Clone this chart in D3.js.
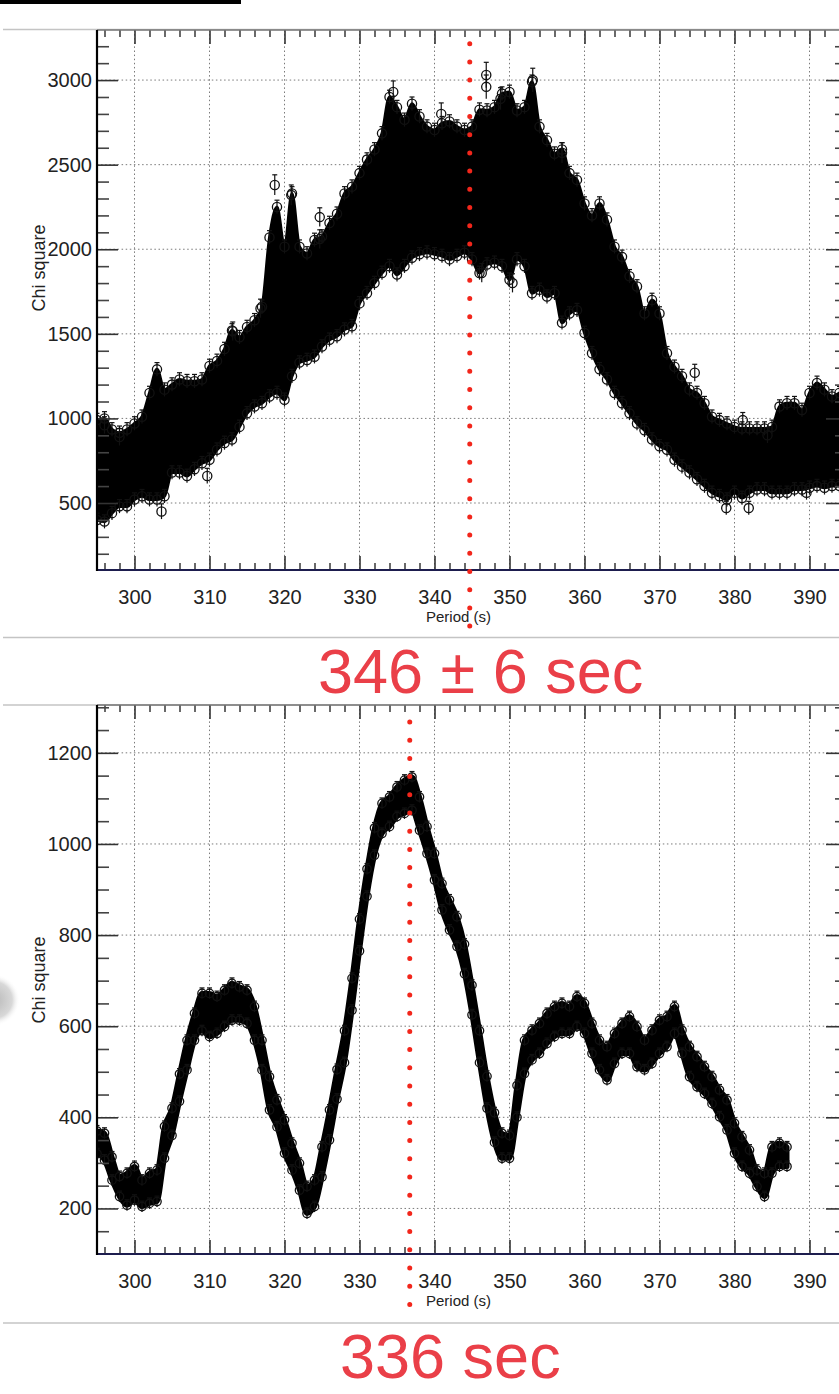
<!DOCTYPE html>
<html>
<head>
<meta charset="utf-8">
<script src="https://cdn.jsdelivr.net/npm/d3@7/dist/d3.min.js"></script>
<style>
  body { margin: 0; background: #fff; }
  svg { display: block; }
</style>
</head>
<body>
<svg id="chart"></svg>
<script>
// ---- data ----
// top panel: envelope of the dense cloud of points (one sample per second of period)
const periodsTop = [295, 296, 297, 298, 299, 300, 301, 302, 303, 304, 305, 306, 307, 308, 309, 310, 311, 312, 313, 314,
  315, 316, 317, 318, 319, 320, 321, 322, 323, 324, 325, 326, 327, 328, 329, 330, 331, 332, 333, 334,
  335, 336, 337, 338, 339, 340, 341, 342, 343, 344, 345, 346, 347, 348, 349, 350, 351, 352, 353, 354,
  355, 356, 357, 358, 359, 360, 361, 362, 363, 364, 365, 366, 367, 368, 369, 370, 371, 372, 373, 374,
  375, 376, 377, 378, 379, 380, 381, 382, 383, 384, 385, 386, 387, 388, 389, 390, 391, 392, 393, 394, 395]
const upperTop = [990, 1000, 935, 915, 935, 970, 1010, 1150, 1290, 1170, 1200, 1230, 1220, 1220, 1230, 1310, 1340, 1410, 1520, 1480,
  1540, 1580, 1660, 2070, 2250, 2015, 2330, 2015, 1975, 2055, 2075, 2155, 2210, 2330, 2370, 2450, 2530, 2590, 2685, 2900,
  2840, 2765, 2860, 2785, 2725, 2705, 2745, 2755, 2725, 2705, 2725, 2825, 2820, 2840, 2920, 2930, 2820, 2840, 2990, 2725,
  2645, 2565, 2590, 2450, 2410, 2270, 2200, 2270, 2175, 2015, 1955, 1840, 1780, 1620, 1700, 1620, 1385, 1305, 1250, 1170,
  1150, 1090, 1010, 990, 970, 950, 940, 940, 940, 940, 950, 1070, 1090, 1090, 1050, 1150, 1210, 1170, 1130, 1150, 1190]
const lowerTop = [400, 390, 440, 480, 480, 520, 540, 520, 520, 540, 680, 680, 660, 700, 735, 755, 815, 855, 875, 950,
  1030, 1070, 1090, 1130, 1150, 1110, 1250, 1330, 1345, 1365, 1425, 1465, 1485, 1525, 1545, 1680, 1740, 1800, 1860, 1900,
  1850, 1900, 1950, 1970, 1980, 1970, 1960, 1940, 1960, 1980, 1940, 1860, 1910, 1920, 1900, 1820, 1940, 1900, 1740, 1760,
  1720, 1740, 1565, 1620, 1640, 1505, 1385, 1290, 1230, 1150, 1090, 1030, 970, 930, 875, 835, 815, 755, 715, 680,
  640, 600, 560, 540, 520, 560, 530, 560, 580, 580, 560, 560, 560, 580, 580, 590, 600, 590, 600, 600, 600]
// isolated points standing out of the cloud
const outlierTopP = [296.0, 298.0, 303.6, 309.7, 313.1, 316.8, 318.7, 320.9, 324.7, 324.7, 334.5, 340.9, 346.9, 346.9,
  348.8, 353.1, 357.0, 346.3, 350.4, 374.7, 381.1, 384.4, 378.9, 381.9, 389.6]
const outlierTopV = [960, 890, 450, 660, 1515, 1650, 2380, 2320, 2190, 2060, 2930, 2800, 3030, 2960,
  2890, 3000, 2570, 1860, 1800, 1270, 990, 900, 470, 470, 560]
const outlierTopErr = [50, 50, 45, 45, 55, 55, 60, 60, 55, 55, 65, 65, 75, 70,
  65, 70, 60, 55, 55, 50, 45, 45, 40, 40, 40]

// bottom panel: thin band
const periodsBottom = [295, 296, 297, 298, 299, 300, 301, 302, 303, 304, 305, 306, 307, 308, 309, 310, 311, 312, 313, 314,
  315, 316, 317, 318, 319, 320, 321, 322, 323, 324, 325, 326, 327, 328, 329, 330, 331, 332, 333, 334,
  335, 336, 337, 338, 339, 340, 341, 342, 343, 344, 345, 346, 347, 348, 349, 350, 351, 352, 353, 354,
  355, 356, 357, 358, 359, 360, 361, 362, 363, 364, 365, 366, 367, 368, 369, 370, 371, 372, 373, 374,
  375, 376, 377, 378, 379, 380, 381, 382, 383, 384, 385, 386, 387]
const upperBottom = [370, 365, 313, 270, 277, 292, 262, 277, 284, 380, 420, 495, 569, 628, 672, 672, 665, 679, 694, 686,
  679, 643, 569, 489, 438, 394, 343, 299, 248, 262, 335, 416, 505, 590, 705, 835, 945, 1035, 1089, 1103,
  1125, 1140, 1147, 1103, 1038, 979, 913, 877, 840, 780, 690, 590, 490, 410, 365, 360, 470, 569, 591, 606,
  628, 643, 650, 643, 665, 650, 606, 569, 555, 584, 606, 621, 599, 569, 591, 613, 621, 643, 591, 555,
  533, 511, 489, 460, 438, 387, 357, 328, 284, 277, 335, 343, 335]
const lowerBottom = [320, 306, 262, 226, 207, 218, 204, 211, 215, 310, 360, 435, 504, 569, 590, 577, 584, 599, 613, 613,
  606, 569, 504, 416, 379, 321, 284, 240, 189, 204, 269, 350, 440, 520, 635, 765, 885, 975, 1023, 1038,
  1060, 1067, 1074, 1030, 979, 921, 855, 811, 775, 715, 625, 520, 420, 345, 310, 310, 400, 496, 526, 540,
  562, 577, 584, 584, 599, 584, 540, 504, 482, 518, 540, 540, 511, 504, 518, 540, 555, 584, 540, 489,
  467, 452, 430, 401, 372, 321, 292, 277, 248, 226, 277, 292, 292]

const bestTop = 344.7
const bestBottom = 336.7
const labelTop = '346 ± 6 sec'
const labelBottom = '336 sec'

const xMajor = [300, 310, 320, 330, 340, 350, 360, 370, 380, 390]
const yMajorTop = [500, 1000, 1500, 2000, 2500, 3000]
const yMajorBottom = [200, 400, 600, 800, 1000, 1200]

// ---- layout ----
const W = 839
const H = 1394
const plotLeft = 97
const plotRight = 847
const font = "'Liberation Sans', Arial, Helvetica, sans-serif"

const svg = d3.select('#chart').attr('width', W).attr('height', H)

// black bar at the very top
svg.append('rect').attr('x', 0).attr('y', 0).attr('width', 241).attr('height', 4).attr('fill', '#000')

// grey separators
const seps = [29.5, 637.5, 705, 1323]
seps.forEach(function (s) {
  svg.append('line')
    .attr('x1', 3).attr('x2', W).attr('y1', s).attr('y2', s)
    .attr('stroke', '#c4c4c4').attr('stroke-width', 1.5)
})

// grey round shadow on the left edge
const defs = svg.append('defs')
const grad = defs.append('radialGradient').attr('id', 'shade')
grad.append('stop').attr('offset', '0%').attr('stop-color', '#b8b8b8')
grad.append('stop').attr('offset', '70%').attr('stop-color', '#d8d8d8')
grad.append('stop').attr('offset', '100%').attr('stop-color', '#fff').attr('stop-opacity', 0)
svg.append('circle').attr('cx', -6).attr('cy', 1000).attr('r', 26).attr('fill', 'url(#shade)')

function drawPanel (p) {
  const x = d3.scaleLinear().domain([295, 395]).range([plotLeft, plotRight])
  const y = d3.scaleLinear().domain(p.yDomain).range([p.bottom, p.top])
  const g = svg.append('g')

  const clipId = 'clip' + p.id
  defs.append('clipPath').attr('id', clipId)
    .append('rect')
    .attr('x', plotLeft).attr('y', p.top)
    .attr('width', plotRight - plotLeft).attr('height', p.bottom - p.top)

  // dotted grid
  const grid = g.append('g').attr('stroke', '#7a7a7a').attr('stroke-width', 1).attr('stroke-dasharray', '1.5,2.6')
  xMajor.forEach(function (v) {
    grid.append('line').attr('x1', x(v)).attr('x2', x(v)).attr('y1', p.top).attr('y2', p.bottom)
  })
  p.yMajor.forEach(function (v) {
    grid.append('line').attr('x1', plotLeft).attr('x2', plotRight).attr('y1', y(v)).attr('y2', y(v))
  })

  // data cloud
  const pts = p.periods.map(function (d, i) {
    return { p: d, up: p.upper[i], lo: p.lower[i] }
  })
  const data = g.append('g').attr('clip-path', 'url(#' + clipId + ')')
  const area = d3.area()
    .x(d => x(d.p))
    .y0(d => y(d.lo))
    .y1(d => y(d.up))
    .curve(d3.curveMonotoneX)
  data.append('path').attr('d', area(pts))
    .attr('fill', '#000')
    .attr('stroke', '#000')
    .attr('stroke-width', p.bandStroke)
    .attr('stroke-linejoin', 'round')

  // marker rims on the edges of the cloud
  const edge = []
  pts.forEach(function (d) {
    edge.push({ p: d.p, v: d.up, e: p.edgeErr })
    edge.push({ p: d.p, v: d.lo, e: p.edgeErr })
  })
  const outl = p.outP.map(function (d, i) {
    return { p: d, v: p.outV[i], e: p.outE[i] }
  })
  const marks = edge.concat(outl)
  data.selectAll('line.err')
    .data(marks)
    .enter()
    .append('line')
    .attr('class', 'err')
    .attr('x1', d => x(d.p)).attr('x2', d => x(d.p))
    .attr('y1', d => y(d.v - d.e)).attr('y2', d => y(d.v + d.e))
    .attr('stroke', '#111').attr('stroke-width', 1.2)
  data.selectAll('line.cap')
    .data(marks)
    .enter()
    .append('line')
    .attr('class', 'cap')
    .attr('x1', d => x(d.p) - 2.5).attr('x2', d => x(d.p) + 2.5)
    .attr('y1', d => y(d.v + d.e)).attr('y2', d => y(d.v + d.e))
    .attr('stroke', '#111').attr('stroke-width', 1.2)
  data.selectAll('circle')
    .data(marks)
    .enter()
    .append('circle')
    .attr('cx', d => x(d.p))
    .attr('cy', d => y(d.v))
    .attr('r', p.markerR)
    .attr('fill', 'none')
    .attr('stroke', '#111')
    .attr('stroke-width', 1.3)

  // axes: major + minor ticks on all four sides, pointing inwards
  const tickStyle = function (sel, color) {
    sel.select('.domain').remove()
    sel.selectAll('.tick line').attr('stroke', color).attr('stroke-width', 1.6)
    sel.selectAll('text').attr('font-family', font).attr('font-size', 20).attr('fill', '#222')
  }
  const xMinor = d3.range(296, 395, 2).filter(v => v % 10 !== 0)
  const yMinor = d3.range(p.yDomain[0] - p.yDomain[0] % p.yMinorStep + p.yMinorStep, p.yDomain[1], p.yMinorStep)
    .filter(v => p.yMajor.indexOf(v) < 0)

  g.append('g').attr('transform', 'translate(0,' + p.bottom + ')')
    .call(d3.axisBottom(x).tickValues(xMajor).tickSize(-14).tickPadding(20).tickFormat(d3.format('d')))
    .call(s => tickStyle(s, '#333'))
  g.append('g').attr('transform', 'translate(0,' + p.bottom + ')')
    .call(d3.axisBottom(x).tickValues(xMinor).tickSize(-7).tickFormat(''))
    .call(s => tickStyle(s, '#444'))
  g.append('g').attr('transform', 'translate(0,' + p.top + ')')
    .call(d3.axisTop(x).tickValues(xMajor).tickSize(-14).tickFormat(''))
    .call(s => tickStyle(s, '#333'))
  g.append('g').attr('transform', 'translate(0,' + p.top + ')')
    .call(d3.axisTop(x).tickValues(xMinor).tickSize(-7).tickFormat(''))
    .call(s => tickStyle(s, '#444'))
  g.append('g').attr('transform', 'translate(' + plotLeft + ',0)')
    .call(d3.axisLeft(y).tickValues(p.yMajor).tickSize(-21).tickPadding(5).tickFormat(d3.format('d')))
    .call(s => tickStyle(s, '#333'))
  g.append('g').attr('transform', 'translate(' + plotLeft + ',0)')
    .call(d3.axisLeft(y).tickValues(yMinor).tickSize(-12).tickFormat(''))
    .call(s => tickStyle(s, '#444'))
  g.append('g').attr('transform', 'translate(' + plotRight + ',0)')
    .call(d3.axisRight(y).tickValues(p.yMajor).tickSize(-21).tickFormat(''))
    .call(s => tickStyle(s, '#333'))
  g.append('g').attr('transform', 'translate(' + plotRight + ',0)')
    .call(d3.axisRight(y).tickValues(yMinor).tickSize(-12).tickFormat(''))
    .call(s => tickStyle(s, '#444'))

  // frame
  g.append('line').attr('x1', plotLeft).attr('x2', plotRight).attr('y1', p.top).attr('y2', p.top)
    .attr('stroke', '#777').attr('stroke-width', 1.5)
  g.append('line').attr('x1', plotLeft).attr('x2', plotRight).attr('y1', p.bottom).attr('y2', p.bottom)
    .attr('stroke', '#1d1d4e').attr('stroke-width', 2)
  g.append('line').attr('x1', plotLeft).attr('x2', plotLeft).attr('y1', p.top).attr('y2', p.bottom + 1)
    .attr('stroke', '#000').attr('stroke-width', 2.2)

  // axis titles
  g.append('text')
    .attr('x', 426).attr('y', p.bottom + 52)
    .attr('font-family', font).attr('font-size', 15).attr('fill', '#222')
    .text('Period (s)')
  g.append('text')
    .attr('transform', 'translate(45,' + p.yTitle + ') rotate(-90)')
    .attr('text-anchor', 'middle')
    .attr('font-family', font).attr('font-size', 18).attr('fill', '#222')
    .text('Chi square')

  // best period marker
  g.append('line')
    .attr('x1', x(p.best)).attr('x2', x(p.best))
    .attr('y1', p.redTop).attr('y2', p.redBottom)
    .attr('stroke', '#f2261b').attr('stroke-width', 5)
    .attr('stroke-linecap', 'round')
    .attr('stroke-dasharray', '0,18.2')

  // big red label
  svg.append('text')
    .attr('x', p.labelX).attr('y', p.labelY)
    .attr('font-family', font).attr('font-size', 63).attr('fill', '#ea3f48')
    .text(p.label)
}

drawPanel({
  id: 'top',
  top: 30,
  bottom: 570,
  yDomain: [104, 3296],
  yMajor: yMajorTop,
  yMinorStep: 100,
  periods: periodsTop,
  upper: upperTop,
  lower: lowerTop,
  outP: outlierTopP,
  outV: outlierTopV,
  outE: outlierTopErr,
  edgeErr: 40,
  markerR: 4.6,
  bandStroke: 3,
  best: bestTop,
  redTop: 43.7,
  redBottom: 630,
  yTitle: 268,
  label: labelTop,
  labelX: 318,
  labelY: 693
})

drawPanel({
  id: 'bottom',
  top: 705,
  bottom: 1254,
  yDomain: [100, 1305],
  yMajor: yMajorBottom,
  yMinorStep: 50,
  periods: periodsBottom,
  upper: upperBottom,
  lower: lowerBottom,
  outP: [],
  outV: [],
  outE: [],
  edgeErr: 12,
  markerR: 4.2,
  bandStroke: 5,
  best: bestBottom,
  redTop: 722,
  redBottom: 1310,
  yTitle: 980,
  label: labelBottom,
  labelX: 340,
  labelY: 1378
})
</script>
</body>
</html>
